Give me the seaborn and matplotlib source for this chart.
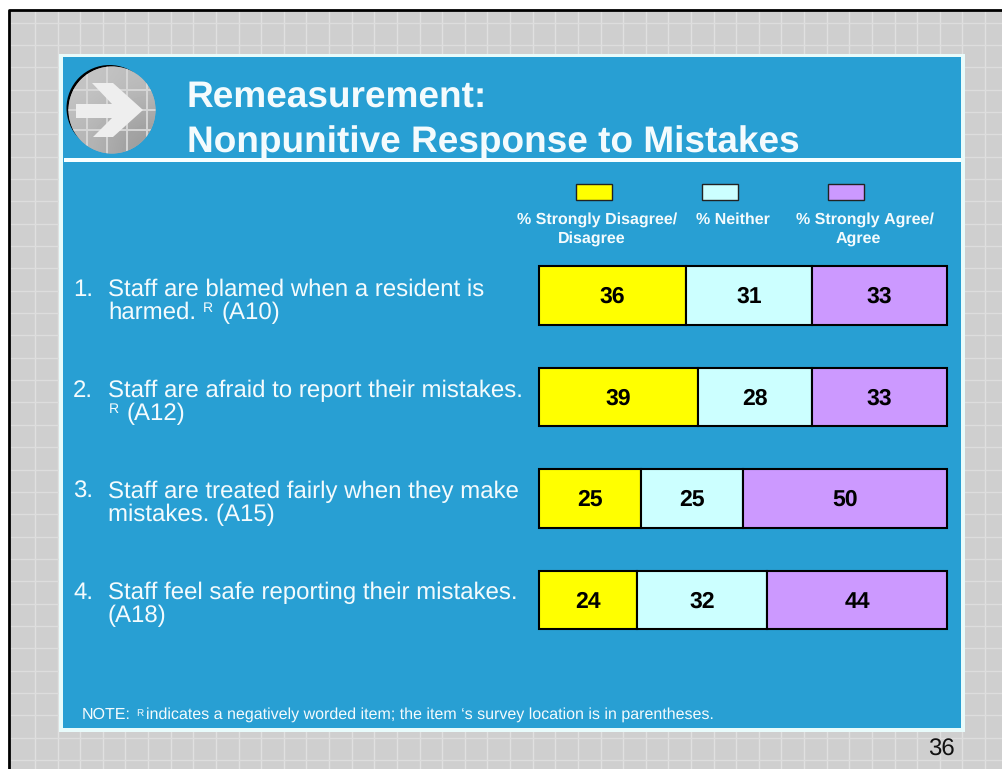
import numpy as np
import pandas as pd
import seaborn as sns
from matplotlib import pyplot as plt
from matplotlib.patches import Circle, Polygon, Rectangle

# values
questions = ['A10', 'A12', 'A15', 'A18']
disagree = [36, 39, 25, 24]
neither = [31, 28, 25, 32]
agree = [33, 33, 50, 44]
series_colors = ['#ffff00', '#ccffff', '#cc99ff']

W, H = 1003, 769
BLUE = '#289fd3'
TEXT = '#f4fbfd'

sns.set_theme(style='white')
plt.rcParams['font.family'] = ['Liberation Sans', 'DejaVu Sans']
plt.rcParams['text.hinting'] = 'no_hinting'
plt.rcParams['text.hinting_factor'] = 1

fig = plt.figure(figsize=(W / 100, H / 100), dpi=100, facecolor='white')

# slide background, drawn in pixel coordinates
bg = fig.add_axes([0, 0, 1, 1])
bg.set_xlim(0, W)
bg.set_ylim(H, 0)
bg.axis('off')

bg.add_patch(Rectangle((10, 10), W, H, fc='#cfcfcf', ec='none'))
for x in np.arange(35, W, 22.62):
    bg.plot([x, x], [10, H], color='#e0e0e0', lw=1.0)
for y in np.arange(22.5, H, 22.35):
    bg.plot([10, W], [y, y], color='#dddddd', lw=1.0)
bg.plot([9.5, 9.5, W], [H, 9.5, 9.5], color='black', lw=2.0, solid_capstyle='butt')

# blue panel
bg.add_patch(Rectangle((59, 53.5), 906, 678.5, fc='#e8fbfb', ec='none', zorder=3))
bg.add_patch(Rectangle((63, 57), 898, 671, fc=BLUE, ec='none', zorder=3))
bg.add_patch(Rectangle((64, 158), 897, 4, fc='#f8ffff', ec='none', zorder=4))

# round arrow badge
bg.add_patch(Circle((109.5, 108), 43, fc='black', ec='none', zorder=4))
badge = Circle((112, 110), 43.5, fc='#b0b0b0', ec='none', zorder=5)
bg.add_patch(badge)
shade = np.array([[0.78, 0.74], [0.72, 0.60]])
img = bg.imshow(shade, extent=(68, 156, 154, 66), cmap='gray', vmin=0, vmax=1,
                interpolation='bicubic', aspect='auto', zorder=5)
img.set_clip_path(badge)
bg.set_xlim(0, W)
bg.set_ylim(H, 0)
for x in [87, 107, 127, 147]:
    line, = bg.plot([x, x], [60, 160], color='#d6d6d6', lw=1.4, zorder=6)
    line.set_clip_path(badge)
for y in [90, 110, 130]:
    line, = bg.plot([60, 160], [y, y], color='#d6d6d6', lw=1.4, zorder=6)
    line.set_clip_path(badge)
bg.add_patch(Polygon([(76, 104), (112, 104), (92, 83), (113, 83), (143, 110),
                      (113, 137), (93, 137), (112, 118), (76, 118)],
                     fc='#eeeeee', ec='none', zorder=7))

# title
bg.text(187, 107, 'Remeasurement:', fontsize=26.9, fontweight='bold', color=TEXT,
        va='baseline', ha='left', zorder=8)
bg.text(187, 152, 'Nonpunitive Response to Mistakes', fontsize=26.9, fontweight='bold',
        color=TEXT, va='baseline', ha='left', zorder=8)

# legend
for x, color in zip([576, 702, 828], series_colors):
    bg.add_patch(Rectangle((x, 184), 36, 16, fc=color, ec='#222222', lw=1, zorder=8))
legend_lines = [(597, 224, '% Strongly Disagree/'), (592, 243, 'Disagree'),
                (733, 224, '% Neither'),
                (865, 224, '% Strongly Agree/'), (858, 243, 'Agree')]
for x, y, s in legend_lines:
    bg.text(x, y, s, fontsize=11.5, fontweight='bold', color=TEXT, ha='center', va='baseline', zorder=8)

# question text
item_lines = [
    (73, 296, '1.'), (108, 296, 'Staff are blamed when a resident is'),
    (108, 319, 'harmed.'), (222, 319, '(A10)'),
    (73, 397, '2.'), (108, 397, 'Staff are afraid to report their mistakes.'),
    (127, 420, '(A12)'),
    (73, 498, '3.'), (108, 498, 'Staff are treated fairly when they make'),
    (108, 521, 'mistakes. (A15)'),
    (73, 599, '4.'), (108, 599, 'Staff feel safe reporting their mistakes.'),
    (108, 622, '(A18)'),
]
for x, y, s in item_lines:
    bg.text(x, y, s, fontsize=17.2, color=TEXT, ha='left', va='baseline', zorder=8)
for x, y in [(203, 312), (109, 413)]:
    bg.text(x, y, 'R', fontsize=10, color=TEXT, ha='left', va='baseline', zorder=8)

# footnote and page number
bg.text(82, 719, 'NOTE:', fontsize=11.2, color=TEXT, ha='left', va='baseline', zorder=8)
bg.text(136, 716, 'R', fontsize=7.5, color=TEXT, ha='left', va='baseline', zorder=8)
bg.text(146, 719, 'indicates a negatively worded item; the item \u2018s survey location is in parentheses.',
        fontsize=11.35, color=TEXT, ha='left', va='baseline', zorder=8)
bg.text(928, 750, '36', fontsize=17, color='#111111', ha='left', va='center', zorder=8)

# stacked bars
left_px, right_px = 539, 947
top_px, bottom_px = 244.9, 650.6
ax = fig.add_axes([left_px / W, 1 - bottom_px / H, (right_px - left_px) / W, (bottom_px - top_px) / H])
ax.patch.set_alpha(0)

df = pd.DataFrame({'question': questions, 'disagree': disagree, 'neither': neither, 'agree': agree})
offset = np.zeros(len(df))
for col, color in zip(['disagree', 'neither', 'agree'], series_colors):
    sns.barplot(data=df, x=col, y='question', left=offset, color=color, saturation=1,
                width=0.577, edgecolor='black', linewidth=1.5, clip_on=False, ax=ax)
    offset = offset + df[col].to_numpy()
for container in ax.containers:
    labels = ax.bar_label(container, label_type='center', fontsize=16.5, fontweight='bold', color='black')
    for label in labels:
        label.xyann = (0, -1.2)

ax.set_xlim(0, 100)
ax.set_ylim(3.5, -0.5)
ax.axis('off')

fig.savefig('out.png', dpi=100)
